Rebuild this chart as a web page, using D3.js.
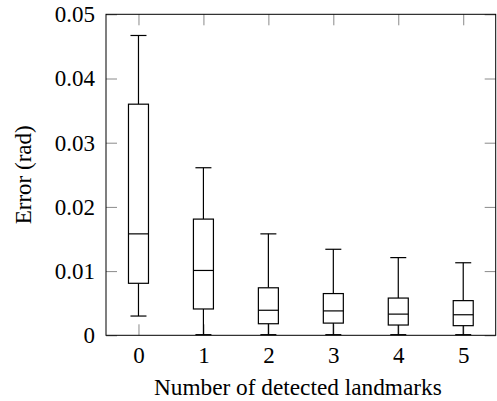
<!DOCTYPE html>
<meta charset="utf-8">
<script src="https://d3js.org/d3.v7.min.js"></script>
<body style="margin:0; background:#fff">
<svg id="vis"></svg>
<script>
  var visWidth = 497
  var visHeight = 401
  var serif = 'Liberation Serif'

  // box plot values
  var landmarks = [0, 1, 2, 3, 4, 5]
  var whiskerLow = [0.0030, 0.0001, 0.0001, 0.0001, 0.0001, 0.0001]
  var lowerQuartile = [0.0081, 0.0041, 0.0018, 0.0019, 0.0016, 0.0015]
  var median = [0.0158, 0.0101, 0.0039, 0.0038, 0.0033, 0.0032]
  var upperQuartile = [0.0360, 0.0181, 0.0074, 0.0065, 0.0058, 0.0054]
  var whiskerHigh = [0.0467, 0.0261, 0.0158, 0.0134, 0.0121, 0.0113]
  var yTicks = [0, 0.01, 0.02, 0.03, 0.04, 0.05]

  var margin = {top: 14.3, right: 1.3, bottom: 65.7, left: 106}
  var w = visWidth - margin.left - margin.right
  var h = visHeight - margin.top - margin.bottom

  var svg = d3.select('#vis')
    .attr('width', visWidth)
    .attr('height', visHeight)

  var g = svg.append('g')
    .attr('transform', 'translate(' + margin.left + ',' + margin.top + ')')

  var x = d3.scaleLinear().domain([-0.5, 5.5]).range([0, w])
  var y = d3.scaleLinear().domain([0, 0.05]).range([h, 0])

  var boxWidth = 20
  var capWidth = 16
  var tickLen = 11

  function styleAxis(sel, showLabels) {
    sel.select('.domain').remove()
    sel.selectAll('.tick line').attr('stroke', '#8a8a8a').attr('stroke-width', 1)
    if (showLabels) {
      sel.selectAll('.tick text')
        .style('font-family', serif)
        .style('font-size', '23px')
        .attr('fill', '#000')
    } else {
      sel.selectAll('.tick text').remove()
    }
  }

  g.append('g')
    .attr('transform', 'translate(0,' + h + ')')
    .call(d3.axisBottom(x).tickValues(landmarks).tickFormat(d3.format('d')).tickSize(-tickLen).tickPadding(11))
    .call(styleAxis, true)

  g.append('g')
    .call(d3.axisTop(x).tickValues(landmarks).tickSize(-tickLen))
    .call(styleAxis, false)

  g.append('g')
    .call(d3.axisLeft(y).tickValues(yTicks).tickFormat(d => d === 0 ? '0' : d3.format('.2f')(d)).tickSize(-tickLen).tickPadding(11))
    .call(styleAxis, true)

  g.append('g')
    .attr('transform', 'translate(' + w + ',0)')
    .call(d3.axisRight(y).tickValues(yTicks).tickSize(-tickLen))
    .call(styleAxis, false)

  var boxes = g.selectAll('.box')
    .data(landmarks)
    .enter().append('g')
    .attr('class', 'box')
    .attr('stroke', '#000')
    .attr('stroke-width', 1.2)
    .attr('fill', 'none')

  // whiskers
  boxes.append('line')
    .attr('x1', d => x(d)).attr('x2', d => x(d))
    .attr('y1', (d, i) => y(whiskerHigh[i])).attr('y2', (d, i) => y(upperQuartile[i]))
  boxes.append('line')
    .attr('x1', d => x(d)).attr('x2', d => x(d))
    .attr('y1', (d, i) => y(lowerQuartile[i])).attr('y2', (d, i) => y(whiskerLow[i]))
  boxes.append('line')
    .attr('x1', d => x(d) - capWidth / 2).attr('x2', d => x(d) + capWidth / 2)
    .attr('y1', (d, i) => y(whiskerHigh[i])).attr('y2', (d, i) => y(whiskerHigh[i]))
  boxes.append('line')
    .attr('x1', d => x(d) - capWidth / 2).attr('x2', d => x(d) + capWidth / 2)
    .attr('y1', (d, i) => y(whiskerLow[i])).attr('y2', (d, i) => y(whiskerLow[i]))

  // box and median
  boxes.append('rect')
    .attr('x', d => x(d) - boxWidth / 2)
    .attr('width', boxWidth)
    .attr('y', (d, i) => y(upperQuartile[i]))
    .attr('height', (d, i) => y(lowerQuartile[i]) - y(upperQuartile[i]))
    .attr('fill', '#fff')
  boxes.append('line')
    .attr('x1', d => x(d) - boxWidth / 2).attr('x2', d => x(d) + boxWidth / 2)
    .attr('y1', (d, i) => y(median[i])).attr('y2', (d, i) => y(median[i]))

  // frame
  g.append('rect')
    .attr('width', w).attr('height', h)
    .attr('fill', 'none')
    .attr('stroke', '#000')
    .attr('stroke-width', 1)

  svg.append('text')
    .attr('x', margin.left + w / 2 - 3)
    .attr('y', 395)
    .attr('text-anchor', 'middle')
    .style('font-family', serif)
    .style('font-size', '23.3px')
    .text('Number of detected landmarks')

  svg.append('text')
    .attr('transform', 'translate(31,' + (margin.top + h / 2) + ') rotate(-90)')
    .attr('text-anchor', 'middle')
    .style('font-family', serif)
    .style('font-size', '23px')
    .text('Error (rad)')
</script>
</body>
